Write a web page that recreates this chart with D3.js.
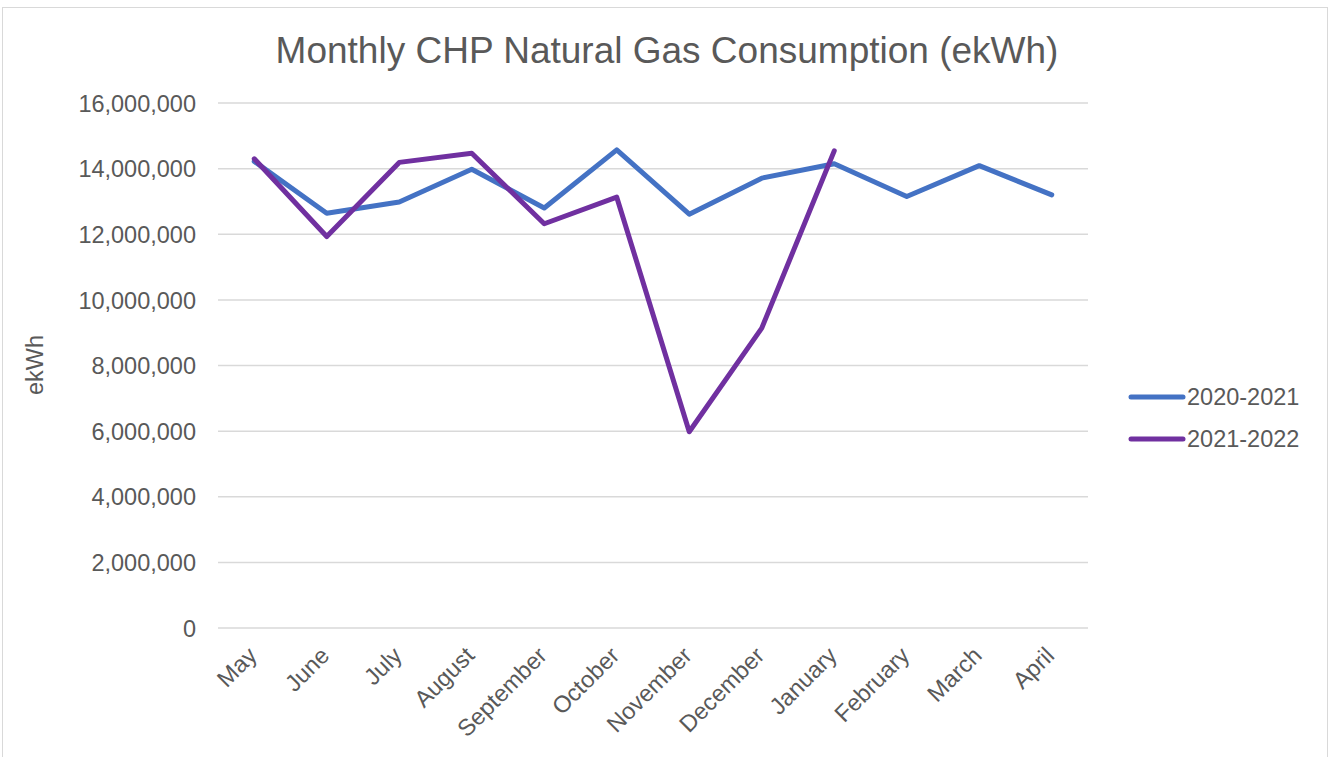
<!DOCTYPE html>
<html><head><meta charset="utf-8">
<script src="https://cdn.jsdelivr.net/npm/d3@7"></script>
<style>body{margin:0;background:#fff;} text{font-family:Arial,"Liberation Sans",sans-serif;}</style>
</head><body>
<svg id="c" width="1330" height="757"></svg>
<script>
const months = ["May","June","July","August","September","October","November","December","January","February","March","April"];
const series2020 = [14220000,12640000,12980000,13980000,12800000,14570000,12610000,13710000,14150000,13150000,14090000,13200000];
const series2021 = [14300000,11930000,14190000,14470000,12320000,13130000,5980000,9140000,14540000];
const seriesNames = ["2020-2021","2021-2022"];
const colors = ["#4472C4","#7030A0"];
const yTicks = [0,2000000,4000000,6000000,8000000,10000000,12000000,14000000,16000000];

const FS = "23.5px";
const svg = d3.select("#c");
svg.append("rect").attr("x",2.5).attr("y",7.5).attr("width",1325).attr("height",760).attr("fill","#fff").attr("stroke","#d9d9d9");

const x = d3.scaleBand().domain(months).range([218,1088]).padding(0);
const y = d3.scaleLinear().domain([0,16000000]).range([628,103]);

// gridlines
svg.append("g").selectAll("line").data(yTicks).join("line")
  .attr("x1",218).attr("x2",1088).attr("y1",d=>y(d)).attr("y2",d=>y(d))
  .attr("stroke","#d9d9d9").attr("stroke-width",1.5);

// y axis labels
const yAxis = d3.axisLeft(y).tickValues(yTicks).tickFormat(d3.format(",")).tickSize(0).tickPadding(0);
const yg = svg.append("g").attr("transform","translate(196,0)").call(yAxis);
yg.select(".domain").remove();
yg.selectAll("text").attr("font-size",FS).attr("fill","#595959").attr("dy","0.35em");

// x axis labels
const xAxis = d3.axisBottom(x).tickSize(0).tickPadding(0);
const xg = svg.append("g").attr("transform","translate(0,628)").call(xAxis);
xg.select(".domain").remove();
xg.selectAll("text").attr("font-size",FS).attr("fill","#595959")
  .attr("text-anchor","end").attr("dy",null).attr("y",0)
  .attr("transform","translate(4,29) rotate(-45)");

// axis title
svg.append("text").attr("transform","translate(43,365) rotate(-90)").attr("text-anchor","middle")
  .attr("font-size",FS).attr("fill","#595959").text("ekWh");

// title
svg.append("text").attr("x",667).attr("y",63).attr("text-anchor","middle")
  .attr("font-size","37px").attr("fill","#595959").text("Monthly CHP Natural Gas Consumption (ekWh)");

const line = d3.line().x((d,i)=>x(months[i])+x.bandwidth()/2).y(d=>y(d));
[series2020,series2021].forEach((s,i)=>{
  svg.append("path").datum(s).attr("d",line).attr("fill","none")
    .attr("stroke",colors[i]).attr("stroke-width",5).attr("stroke-linejoin","round").attr("stroke-linecap","round");
});

// legend
const leg = svg.append("g");
seriesNames.forEach((n,i)=>{
  const yy = 397 + i*42;
  leg.append("line").attr("x1",1131).attr("x2",1183).attr("y1",yy).attr("y2",yy)
    .attr("stroke",colors[i]).attr("stroke-width",5).attr("stroke-linecap","round");
  leg.append("text").attr("x",1187).attr("y",yy).attr("dy","0.35em").attr("font-size",FS)
    .attr("fill","#595959").text(n);
});
</script>
</body></html>
